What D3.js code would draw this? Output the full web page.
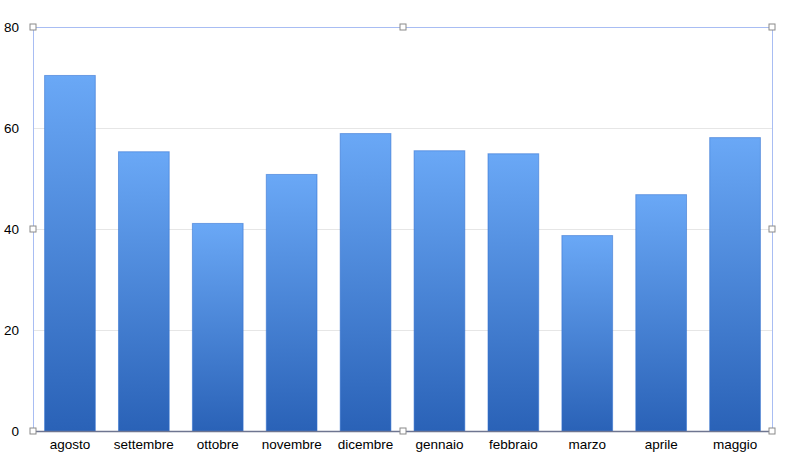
<!DOCTYPE html>
<html><head><meta charset="utf-8">
<script src="https://cdn.jsdelivr.net/npm/d3@7"></script>
<style>body{margin:0;background:#fff}svg{display:block}text{font-family:"Helvetica Neue",Helvetica,"Liberation Sans",Arial,sans-serif}</style>
</head><body><svg id="c" width="800" height="469"></svg>
<script>
const categories = ["agosto","settembre","ottobre","novembre","dicembre","gennaio","febbraio","marzo","aprile","maggio"];
const values = [70.5, 55.4, 41.2, 50.9, 59.0, 55.6, 55.0, 38.8, 46.9, 58.2];
const yTicks = [0, 20, 40, 60, 80];

const svg = d3.select("#c");
const m = {left: 33, right: 772, top: 27, bottom: 431};
const x = d3.scaleBand().domain(categories).range([m.left, m.right]).paddingInner(0.3).paddingOuter(0.15);
const y = d3.scaleLinear().domain([0, 80]).range([m.bottom, m.top]);
const FONT = '"Helvetica Neue",Helvetica,"Liberation Sans",Arial,sans-serif';

const defs = svg.append("defs");
const g = defs.append("linearGradient").attr("id","bg").attr("x1",0).attr("y1",0).attr("x2",0).attr("y2",1);
g.append("stop").attr("offset","0%").attr("stop-color","#6aa8f6");
g.append("stop").attr("offset","100%").attr("stop-color","#2a62b7");

svg.append("g").selectAll("line").data(yTicks.filter(d=>d>0 && d<80)).join("line")
  .attr("x1", m.left).attr("x2", m.right).attr("y1", d=>y(d)+0.5).attr("y2", d=>y(d)+0.5)
  .attr("stroke","#e6e6e6").attr("stroke-width",1);

svg.append("g").selectAll("rect").data(categories).join("rect")
  .attr("x", d=>x(d)+0.5).attr("width", x.bandwidth()-1)
  .attr("y", (d,i)=>y(values[i])+0.5).attr("height", (d,i)=>y(0)-y(values[i])-0.5)
  .attr("fill","url(#bg)").attr("stroke","#2f6fd0").attr("stroke-opacity",0.55).attr("stroke-width",1);

svg.append("rect").attr("x", m.left+0.5).attr("y", m.top+0.5).attr("width", m.right-m.left).attr("height", m.bottom-m.top)
  .attr("fill","none").attr("stroke","#a8bdf3").attr("stroke-width",1);

svg.append("line").attr("x1", m.left).attr("x2", m.right).attr("y1", m.bottom+0.5).attr("y2", m.bottom+0.5)
  .attr("stroke","#6e7590").attr("stroke-width",1.5);

const ya = d3.axisLeft(y).tickValues(yTicks).tickSize(0).tickPadding(14);
const yg = svg.append("g").attr("transform",`translate(${m.left},0)`).call(ya);
yg.select(".domain").remove();
yg.selectAll("text").attr("font-size",13.5).attr("fill","#000").attr("font-family",FONT);

const xa = d3.axisBottom(x).tickSize(0).tickPadding(8);
const xg = svg.append("g").attr("transform",`translate(0,${m.bottom})`).call(xa);
xg.select(".domain").remove();
xg.selectAll("text").attr("font-size",13.5).attr("fill","#000").attr("font-family",FONT);

const mx = (m.left+m.right)/2, my = (m.top+m.bottom)/2;
const handles = [[m.left,m.top],[mx,m.top],[m.right,m.top],[m.left,my],[m.right,my],[m.left,m.bottom],[mx,m.bottom],[m.right,m.bottom]];
svg.append("g").selectAll("rect").data(handles).join("rect")
  .attr("x", d=>Math.round(d[0])-3).attr("y", d=>Math.round(d[1])-3).attr("width",6).attr("height",6)
  .attr("fill","#fff").attr("stroke","#8a8a8a").attr("stroke-width",1);
</script></body></html>
